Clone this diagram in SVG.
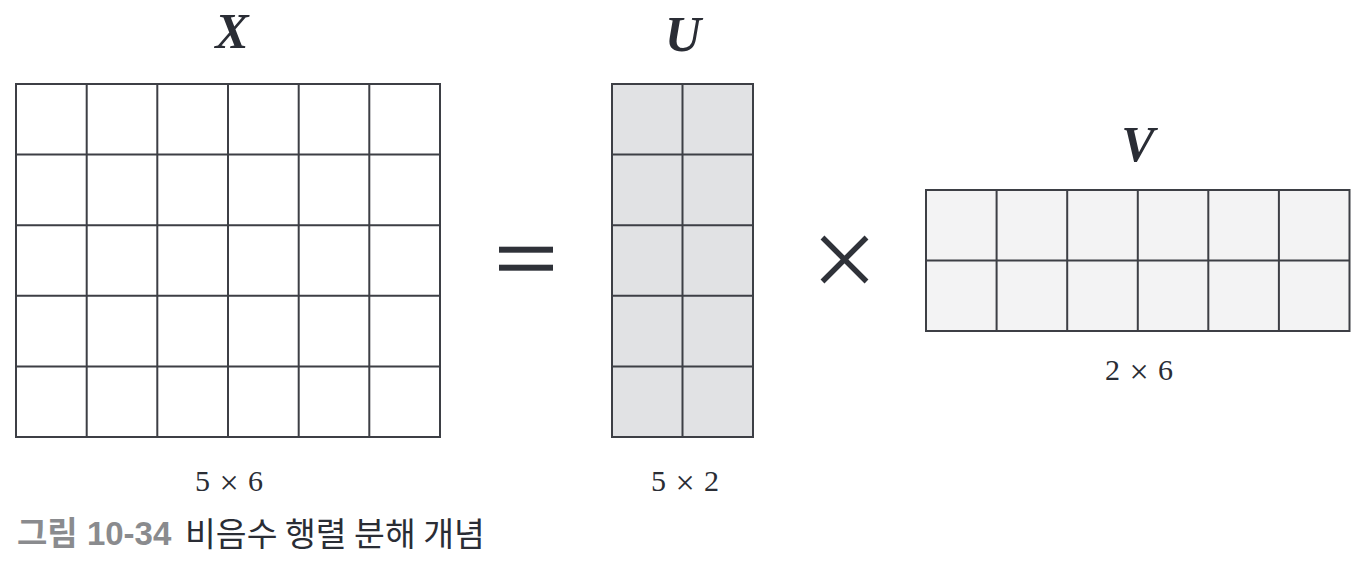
<svg xmlns="http://www.w3.org/2000/svg" width="1366" height="562" viewBox="0 0 1366 562">
<style>
.grid{stroke:#3d3f45;stroke-width:2;}
.title{font-family:"Liberation Serif","DejaVu Serif",serif;font-weight:bold;font-style:italic;font-size:50px;fill:#2a2d35;text-anchor:middle;}
.dim{font-family:"Liberation Serif","DejaVu Serif",serif;font-size:30px;fill:#2a2d35;text-anchor:middle;word-spacing:2px;}
.x{font-size:34px;}
.op{stroke:#2f3239;stroke-width:5.5;fill:none;}
</style>
<rect width="1366" height="562" fill="#ffffff"/>
<g id="matrix-X">
<text class="title" x="232" y="48">X</text>
<rect class="grid" x="16" y="84" width="424" height="353" fill="#ffffff"/>
<path class="grid" fill="none" d="M86.7 84V437M157.3 84V437M228 84V437M298.7 84V437M369.3 84V437M16 154.6H440M16 225.2H440M16 295.8H440M16 366.4H440"/>
<text class="dim" x="229" y="491">5 <tspan class="x" dy="3">×</tspan><tspan dy="-3"> 6</tspan></text>
</g>
<g id="equals">
<rect x="499" y="246.7" width="54" height="6" fill="#2f3239"/>
<rect x="499" y="264.7" width="54" height="6" fill="#2f3239"/>
</g>
<g id="matrix-U">
<text class="title" x="683" y="51">U</text>
<rect class="grid" x="612" y="84" width="141" height="353" fill="#e1e2e4"/>
<path class="grid" fill="none" d="M682.5 84V437M612 154.6H753M612 225.2H753M612 295.8H753M612 366.4H753"/>
<text class="dim" x="685" y="491">5 <tspan class="x" dy="3">×</tspan><tspan dy="-3"> 2</tspan></text>
</g>
<g id="times">
<path class="op" d="M822.5 237.5L866.5 281.5M866.5 237.5L822.5 281.5"/>
</g>
<g id="matrix-V">
<text class="title" x="1138" y="161">V</text>
<rect class="grid" x="926" y="190" width="423.5" height="141" fill="#f3f3f4"/>
<path class="grid" fill="none" d="M996.6 190V331M1067.2 190V331M1137.8 190V331M1208.3 190V331M1278.9 190V331M926 260.5H1349.5"/>
<text class="dim" x="1139" y="380">2 <tspan class="x" dy="3">×</tspan><tspan dy="-3"> 6</tspan></text>
</g>
<g id="connectors"></g>
<g id="caption">
<text x="17" y="545" font-family="'Liberation Sans','Noto Sans CJK KR',sans-serif" font-weight="bold" font-size="33" fill="#8a8b8e">그림 10-34</text>
<text x="185" y="546" font-family="'Noto Sans CJK KR',sans-serif" font-size="33.5" fill="#2a2d35">비음수 행렬 분해 개념</text>
</g>
</svg>
